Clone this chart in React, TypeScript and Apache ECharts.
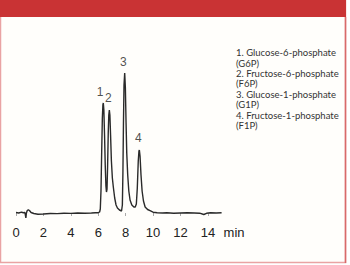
import React, { useEffect, useRef } from "react";
import * as echarts from "echarts";

// Chromatogram trace (minutes, detector response in arbitrary units)
const times = [
  0, 0.2, 0.4, 0.55, 0.65, 0.72, 0.76, 0.82, 0.9, 0.98, 1.1, 1.3, 1.6, 2.0, 2.5, 3.0, 3.5, 4.0, 4.5, 5.0, 5.5, 5.8, 6.0,
  6.1, 6.15, 6.2, 6.25, 6.3, 6.34, 6.37, 6.41, 6.46, 6.51, 6.56, 6.6, 6.64, 6.68, 6.73, 6.77, 6.81, 6.85, 6.9, 6.96,
  7.03, 7.1, 7.2, 7.3, 7.4, 7.55, 7.7, 7.76, 7.8, 7.84, 7.88, 7.93, 7.98, 8.03, 8.08, 8.15, 8.23, 8.32, 8.45, 8.6, 8.7,
  8.78, 8.85, 8.92, 8.97, 9.0, 9.05, 9.12, 9.2, 9.3, 9.42, 9.6, 9.78, 10.0, 10.3, 10.7, 11.0, 11.5, 12.0, 12.5, 13.0,
  13.4, 13.7, 13.9, 14.2, 14.6, 15.0,
];
const signal = [
  0.5, 0, 0.8, 0.3, 0.5, -5, 0, 2.5, 3.2, 2.5, 0.5, -0.5, -1.2, -1, -0.5, -0.6, -0.3, -0.4, 0, -0.2, 0, 0.2, 0.3,
  1, 4, 22, 60, 95, 108, 110, 103, 78, 48, 27, 21, 24, 45, 80, 98, 103, 98, 78, 52,
  35, 26, 15, 8, 5, 3, 2, 8, 40, 90, 128, 140, 125, 90, 60, 38, 22, 13, 8, 6, 6,
  9, 25, 52, 62, 63, 57, 38, 22, 12, 6, 3.5, 2.3, 0.8, 0.3, 0, 0.2, -0.2, 0, 0.2, 0,
  -0.2, -1.5, -0.3, 0.2, 0, 0.3,
];

// Peak number labels
const peakNames = ["1", "2", "3", "4"];
const peakLabelX = [6.13, 6.74, 7.83, 8.93];
const peakLabelY = [121, 115, 151, 75];

// X axis tick labels
const xTicks = [0, 2, 4, 6, 8, 10, 12, 14];
const xMin = 0;
const xMax = 15;
const yMin = -7;
const yMax = 153;
const xUnit = "min";

// Compound key
const keyLines = [
  "1. Glucose-6-phosphate",
  "(G6P)",
  "2. Fructose-6-phosphate",
  "(F6P)",
  "3. Glucose-1-phosphate",
  "(G1P)",
  "4. Fructose-1-phosphate",
  "(F1P)",
];

export default function App() {
  const ref = useRef<HTMLDivElement>(null);
  useEffect(() => {
    document.body.style.margin = "0";
    if (!ref.current) return;
    const chart = echarts.init(ref.current, undefined, { renderer: "svg" });
    const trace = times.map((t, i) => [t, signal[i]]);
    const labels = peakNames.map((n, i) => ({ value: [peakLabelX[i], peakLabelY[i]], name: n }));
    const frame = [
      {
        type: "rect",
        z: -10,
        silent: true,
        shape: { x: 0.5, y: 0.5, width: 345, height: 262 },
        style: { fill: "#fffefb", stroke: "#e9a3a3", lineWidth: 1.5 },
      },
      {
        type: "line",
        z: -9,
        silent: true,
        shape: { x1: 345.5, y1: 17, x2: 345.5, y2: 263 },
        style: { stroke: "#d86a6a", lineWidth: 1.5 },
      },
      {
        type: "rect",
        z: -8,
        silent: true,
        shape: { x: 0, y: 0, width: 346, height: 17 },
        style: { fill: "#c93334" },
      },
      {
        type: "text",
        x: 236,
        y: 47.5,
        silent: true,
        style: {
          text: keyLines.join("\n"),
          fill: "#333333",
          fontSize: 9.5,
          lineHeight: 10.4,
          fontFamily: "Lato",
        },
      },
    ];
    chart.setOption({
      animation: false,
      backgroundColor: "#ffffff",
      grid: { left: 16, right: 128.4, top: 60, bottom: 45 },
      xAxis: {
        type: "value",
        min: xMin,
        max: xMax,
        interval: 1,
        splitLine: { show: false },
        axisLine: { show: false },
        axisTick: {
          show: true,
          customValues: xTicks,
          length: 3,
          lineStyle: { color: "#aaaaaa", width: 1 },
        },
        axisLabel: {
          customValues: xTicks,
          margin: 6,
          color: "#222222",
          fontSize: 13,
          fontFamily: "Liberation Sans",
        },
      },
      yAxis: {
        type: "value",
        min: yMin,
        max: yMax,
        show: false,
        splitLine: { show: false },
      },
      graphic: frame,
      series: [
        {
          type: "line",
          data: trace,
          showSymbol: false,
          symbol: "none",
          lineStyle: { color: "#2a2a2a", width: 1.4 },
          z: 3,
        },
        {
          type: "scatter",
          data: labels,
          symbolSize: 0,
          clip: false,
          label: {
            show: true,
            position: "inside",
            formatter: (p: any) => p.name,
            color: "#222222",
            fontSize: 12,
            fontFamily: "Liberation Sans",
          },
          z: 4,
        },
      ],
    });
    // unit label placed just past the axis end, level with the tick labels
    const end = chart.convertToPixel({ gridIndex: 0 }, [xMax, yMin]) as number[];
    chart.setOption({
      graphic: [
        ...frame,
        {
          type: "text",
          x: end[0] + 2,
          y: end[1] + 12.5,
          silent: true,
          style: {
            text: xUnit,
            fill: "#222222",
            fontSize: 13,
            fontFamily: "Liberation Sans",
            verticalAlign: "middle",
            align: "left",
          },
        },
      ],
    });
    return () => chart.dispose();
  }, []);
  return <div ref={ref} style={{ width: 350, height: 265 }} />;
}
